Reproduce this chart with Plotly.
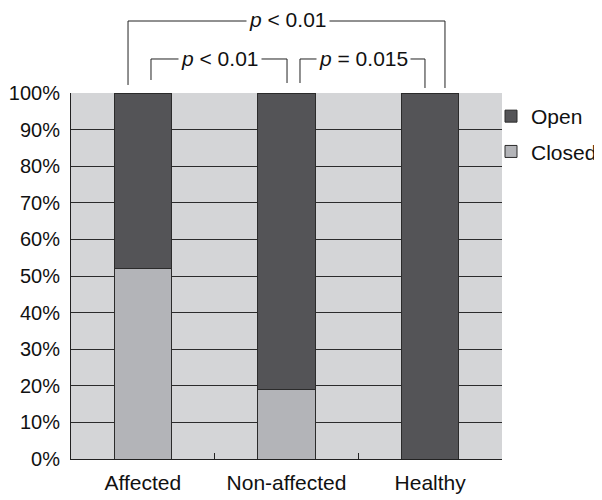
import plotly.graph_objects as go

categories = ["Affected", "Non-affected", "Healthy"]
closed_vals = [52, 19, 0]
open_vals = [48, 81, 100]
y_tick_vals = list(range(0, 101, 10))
y_tick_labels = [f"{v}%" for v in y_tick_vals]

# target plot area in page pixels; the page body adds an 8px offset
OFF = 8
L, R, T, B = 71, 502, 93, 459
FW, FH = 602 - OFF, 500 - OFF
W, H = R - L, B - T

def px(x):
    return (x - L) / W

def py(y):
    return (B - y) / H

fig = go.Figure()
fig.add_trace(go.Bar(x=categories, y=closed_vals, name="Closed", width=0.4,
                     marker=dict(color="#b3b4b8", line=dict(color="#2b2b2b", width=1)),
                     legendgroup="c", legendrank=2))
fig.add_trace(go.Bar(x=categories, y=open_vals, name="Open", width=0.4,
                     marker=dict(color="#545457", line=dict(color="#2b2b2b", width=1)),
                     legendgroup="o", legendrank=1))

font = dict(family="Liberation Sans, Arial, sans-serif", size=21, color="#111")
yfont = dict(family="Liberation Sans, Arial, sans-serif", size=20, color="#111")

fig.update_layout(
    width=FW, height=FH,
    margin=dict(l=L - OFF, r=FW - (R - OFF), t=T - OFF, b=FH - (B - OFF), autoexpand=False),
    barmode="stack",
    paper_bgcolor="white",
    plot_bgcolor="#d4d5d7",
    font=font,
    showlegend=True,
    legend=dict(x=px(491), y=py(96), xanchor="left", yanchor="top",
                traceorder="grouped", tracegroupgap=5, font=font,
                bgcolor="rgba(0,0,0,0)", itemwidth=30),
    xaxis=dict(showline=True, linecolor="#222", linewidth=1, automargin=False,
               ticks="inside", ticklen=6, tickcolor="#222", tickson="boundaries",
               showgrid=False, tickfont=font, range=[-0.5, 2.5], ticklabelstandoff=5),
    yaxis=dict(range=[0, 100], tickmode="array", tickvals=y_tick_vals, ticktext=y_tick_labels,
               showline=True, linecolor="#222", linewidth=1, automargin=False,
               showgrid=True, gridcolor="#2b2b2b", gridwidth=1,
               ticks="", tickfont=yfont, zeroline=False, ticklabelstandoff=6),
    bargap=0.6,
)

line = dict(color="#222", width=1)
def path(pts):
    d = "M " + " L ".join(f"{px(x):.4f},{py(y):.4f}" for x, y in pts)
    fig.add_shape(type="path", path=d, xref="paper", yref="paper", line=line)

path([(128, 85), (128, 21), (445, 21), (445, 88)])
path([(151, 80), (151, 59), (287, 59), (287, 83)])
path([(300, 83), (300, 59), (425, 59), (425, 88)])

for txt, x, y in [("<i>p</i> < 0.01", 288, 20), ("<i>p</i> < 0.01", 220, 58), ("<i>p</i> = 0.015", 363, 58)]:
    fig.add_annotation(text=txt, x=px(x), y=py(y), xref="paper", yref="paper",
                       showarrow=False, bgcolor="white", font=font, borderpad=2,
                       xanchor="center", yanchor="middle")

fig.write_html("out.html")
